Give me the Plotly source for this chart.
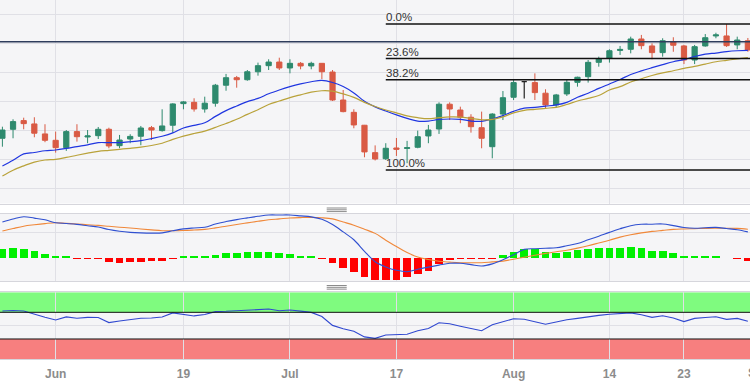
import numpy as np
import pandas as pd
import plotly.graph_objects as go
from plotly.subplots import make_subplots

# ---------------- data ----------------
dates = pd.bdate_range("2023-05-25", "2023-08-31")

open_ = [139.43,140.05,140.65,140.42,139.73,139.29,138.78,139.89,139.52,139.61,
         140.05,138.92,139.38,139.57,140.16,139.96,140.33,141.82,141.91,141.45,
         141.85,143.09,143.61,143.47,144.02,144.44,144.69,144.28,144.60,144.42,
         144.60,144.00,142.07,141.22,140.33,138.44,138.02,138.76,138.73,138.81,
         139.59,140.07,141.78,141.38,140.88,140.16,138.85,141.10,142.26,143.34,
         143.27,142.54,141.73,142.49,143.29,143.68,144.67,144.95,145.49,145.57,
         146.28,145.80,145.34,146.09,145.80,144.83,145.80,146.49,146.49,145.87,
         146.16]
high = [140.23,140.74,140.85,140.88,140.40,139.89,140.00,140.40,140.00,140.21,
        140.16,139.66,139.71,140.28,140.28,141.43,141.85,142.00,142.19,142.30,
        143.18,143.87,143.73,144.14,144.65,144.88,144.99,144.88,144.69,144.71,
        144.62,144.14,142.76,141.43,140.35,138.94,139.09,139.45,139.25,139.96,
        140.35,141.91,141.91,141.61,141.09,141.27,141.16,142.69,143.45,143.38,
        143.91,142.81,142.49,143.45,143.68,144.83,145.06,145.57,145.80,146.44,
        146.56,145.98,146.33,146.40,145.87,145.87,146.62,146.71,147.31,146.44,
        146.35]
low = [138.85,139.43,140.05,139.50,139.16,138.44,138.56,139.20,139.09,139.38,
       138.74,138.74,139.09,138.95,139.31,139.89,139.82,141.43,141.27,141.20,
       141.61,142.71,142.92,143.40,143.75,144.14,144.14,143.91,144.19,144.19,
       143.52,142.00,141.22,140.12,138.12,137.90,137.93,138.21,137.71,138.74,
       139.09,139.73,140.69,140.47,139.82,138.74,138.05,140.69,142.07,142.18,
       142.07,141.50,141.57,142.35,142.99,143.27,144.37,144.65,145.18,145.29,
       145.57,144.88,145.06,145.40,144.55,144.55,145.75,146.33,145.73,145.57,
       145.40]
close = [140.00,140.58,140.44,139.78,139.29,138.78,139.89,139.54,139.59,140.05,
         138.90,139.31,139.56,140.14,140.00,140.28,141.80,141.94,141.45,141.85,
         143.09,143.61,143.47,144.02,144.44,144.69,144.28,144.60,144.42,144.60,
         144.02,142.07,141.27,140.35,138.49,138.00,138.74,138.67,138.78,139.54,
         140.00,141.78,141.45,140.88,140.23,139.43,141.10,142.23,143.27,143.34,
         142.58,141.73,142.42,143.29,143.64,144.67,144.90,145.47,145.56,146.28,
         145.82,145.34,146.16,145.85,144.83,145.75,146.37,146.56,145.82,146.21,
         145.52]

ma_fast = [137.52,137.91,138.35,138.45,138.57,138.62,138.73,138.86,138.98,139.13,
           139.13,139.13,139.19,139.27,139.41,139.57,139.80,140.14,140.32,140.50,
           140.94,141.34,141.66,141.96,142.18,142.50,142.76,142.99,143.18,143.33,
           143.43,143.28,143.00,142.56,141.98,141.60,141.31,141.04,140.80,140.61,
           140.62,140.73,140.76,140.74,140.62,140.60,140.76,140.99,141.29,141.51,
           141.56,141.65,141.73,141.91,142.26,142.54,142.87,143.18,143.49,143.83,
           144.08,144.30,144.51,144.71,144.86,145.07,145.23,145.31,145.41,145.47,
           145.49]
ma_slow = [136.83,137.23,137.53,137.79,137.93,137.98,138.11,138.26,138.40,138.53,
           138.60,138.67,138.74,138.82,138.93,139.09,139.35,139.58,139.76,139.92,
           140.18,140.45,140.74,141.08,141.40,141.76,142.00,142.24,142.43,142.61,
           142.71,142.68,142.49,142.25,141.91,141.62,141.38,141.18,140.98,140.85,
           140.78,140.85,140.90,140.89,140.80,140.71,140.74,140.91,141.18,141.36,
           141.42,141.50,141.56,141.76,142.00,142.18,142.38,142.76,142.99,143.31,
           143.54,143.76,143.94,144.09,144.25,144.39,144.55,144.71,144.81,144.91,
           145.00]

macd = [0.893,0.968,1.025,0.990,0.948,0.875,0.855,0.833,0.800,0.768,
        0.703,0.660,0.633,0.620,0.615,0.620,0.673,0.720,0.743,0.760,
        0.843,0.903,0.953,0.995,1.035,1.068,1.068,1.068,1.045,1.020,
        0.960,0.828,0.645,0.448,0.160,-0.100,-0.230,-0.313,-0.350,-0.290,
        -0.235,-0.185,-0.140,-0.140,-0.173,-0.208,-0.155,-0.053,0.075,0.208,
        0.225,0.238,0.248,0.298,0.355,0.448,0.538,0.633,0.723,0.800,
        0.835,0.838,0.843,0.803,0.755,0.735,0.748,0.758,0.730,0.700,
        0.645]
signal = [0.668,0.730,0.788,0.823,0.853,0.875,0.858,0.843,0.825,0.808,
          0.785,0.763,0.743,0.718,0.695,0.675,0.675,0.680,0.693,0.708,
          0.745,0.788,0.830,0.870,0.910,0.948,0.970,0.993,1.003,1.008,
          0.998,0.970,0.893,0.813,0.713,0.608,0.438,0.280,0.128,0.015,
          -0.045,-0.090,-0.110,-0.125,-0.125,-0.125,-0.105,-0.085,-0.038,0.013,
          0.063,0.108,0.148,0.188,0.240,0.300,0.368,0.438,0.515,0.573,
          0.620,0.658,0.683,0.708,0.718,0.725,0.733,0.735,0.735,0.733,
          0.713]
hist = [0.220,0.235,0.220,0.170,0.085,0.035,0.035,-0.035,-0.040,-0.040,
        -0.110,-0.125,-0.110,-0.100,-0.090,-0.075,-0.035,0.035,0.035,0.035,
        0.070,0.125,0.125,0.140,0.150,0.150,0.110,0.090,0.050,0.035,
        -0.035,-0.140,-0.265,-0.365,-0.490,-0.560,-0.560,-0.560,-0.490,-0.410,
        -0.325,-0.165,-0.060,-0.040,-0.035,-0.035,-0.035,0.070,0.150,0.210,
        0.210,0.135,0.125,0.150,0.190,0.220,0.235,0.250,0.250,0.275,
        0.235,0.175,0.165,0.125,0.035,0.035,0.035,0.035,0.0,-0.035,
        -0.080]

rsi = [71.9,72.8,71.9,66.7,62.5,58.5,63.1,61.0,62.4,62.2,
       54.6,57.0,59.1,61.0,61.5,63.0,69.1,66.9,64.6,66.7,
       71.0,71.5,72.2,72.8,74.6,74.9,72.4,73.4,71.8,69.9,
       63.6,50.4,45.3,41.5,33.1,31.0,36.0,36.6,37.2,42.3,
       45.6,54.3,52.8,49.2,45.9,42.4,51.3,56.1,60.4,59.7,
       55.8,52.2,55.5,58.8,60.9,63.4,65.4,67.2,68.4,69.1,
       66.3,62.5,64.8,61.5,56.1,60.9,62.2,63.4,59.5,60.9,
       56.7]

fib_high = 147.31
fib_low = 137.24
fib_start = "2023-07-14"
fib_levels = [0.0, 23.6, 38.2, 100.0]
price_line = 146.09
rsi_upper, rsi_lower = 70, 30

tick_dates = ["2023-06-01", "2023-06-19", "2023-07-03", "2023-07-17",
              "2023-08-01", "2023-08-14", "2023-08-23"]
tick_labels = ["Jun", "19", "Jul", "17", "Aug", "14", "23"]
next_label = "Sep"

# ---------------- styles ----------------
UP = "#2e8a6e"
DOWN = "#d95a44"
BG = "#f5f5f7"
GRID = "#e0e0e6"
FONT = "Liberation Sans"

o = np.array(open_); h = np.array(high); l = np.array(low); c = np.array(close)
flat = o == c

fig = make_subplots(rows=3, cols=1, shared_xaxes=True)

fig.add_trace(go.Candlestick(
    x=dates[~flat], open=o[~flat], high=h[~flat], low=l[~flat], close=c[~flat],
    increasing=dict(line=dict(color=UP, width=1), fillcolor=UP),
    decreasing=dict(line=dict(color=DOWN, width=1), fillcolor=DOWN),
    whiskerwidth=0, showlegend=False, hoverinfo="skip"), row=1, col=1)
fig.add_trace(go.Candlestick(
    x=dates[flat], open=o[flat], high=h[flat], low=l[flat], close=c[flat],
    increasing=dict(line=dict(color="#222222", width=1.2), fillcolor="#222222"),
    decreasing=dict(line=dict(color="#222222", width=1.2), fillcolor="#222222"),
    whiskerwidth=0, showlegend=False, hoverinfo="skip"), row=1, col=1)

fig.add_trace(go.Scatter(x=dates, y=ma_fast, mode="lines",
                         line=dict(color="#2036e0", width=1.2, shape="spline"),
                         showlegend=False, hoverinfo="skip"), row=1, col=1)
fig.add_trace(go.Scatter(x=dates, y=ma_slow, mode="lines",
                         line=dict(color="#b9a23a", width=1.2, shape="spline"),
                         showlegend=False, hoverinfo="skip"), row=1, col=1)

hist_colors = ["#00f000" if v >= 0 else "#ff0000" for v in hist]
fig.add_trace(go.Bar(x=dates, y=hist, marker=dict(color=hist_colors, line=dict(width=0)),
                     width=0.72 * 86400000, showlegend=False, hoverinfo="skip"),
              row=2, col=1)
fig.add_trace(go.Scatter(x=dates, y=signal, mode="lines",
                         line=dict(color="#f0883a", width=1.1, shape="spline"),
                         showlegend=False, hoverinfo="skip"), row=2, col=1)
fig.add_trace(go.Scatter(x=dates, y=macd, mode="lines",
                         line=dict(color="#3050d0", width=1.1, shape="spline"),
                         showlegend=False, hoverinfo="skip"), row=2, col=1)

fig.add_trace(go.Scatter(x=dates, y=rsi, mode="lines",
                         line=dict(color="#3048d0", width=1.1),
                         showlegend=False, hoverinfo="skip"), row=3, col=1)

# RSI bands
fig.add_shape(type="rect", xref="x3 domain", yref="y3", x0=0, x1=1, y0=rsi_upper, y1=100,
              fillcolor="#7ffb7f", line=dict(width=0), layer="below")
fig.add_shape(type="rect", xref="x3 domain", yref="y3", x0=0, x1=1, y0=0, y1=rsi_lower,
              fillcolor="#f77f7f", line=dict(width=0), layer="below")
for lvl in (rsi_upper, rsi_lower):
    fig.add_shape(type="line", xref="x3 domain", yref="y3", x0=0, x1=1, y0=lvl, y1=lvl,
                  line=dict(color="#111111", width=1))

# price line
fig.add_shape(type="line", xref="x domain", yref="y", x0=0, x1=1, y0=price_line, y1=price_line,
              line=dict(color="#2f3d5c", width=1.5))

# Fibonacci levels
for pct in fib_levels:
    lvl = fib_high - (fib_high - fib_low) * pct / 100.0
    fig.add_shape(type="line", xref="x", yref="y", x0=fib_start, x1="2023-09-08",
                  y0=lvl, y1=lvl, line=dict(color="#111111", width=1.5))
    fig.add_annotation(x=fib_start, y=lvl, xref="x", yref="y", text=f"{pct:.1f}%",
                       showarrow=False, xanchor="left", yanchor="bottom", xshift=-2, yshift=-1,
                       font=dict(family=FONT, size=11.5, color="#333333"))

# drag handles between panels
for base in (0.4222, 0.2069):
    for k in range(3):
        yy = base - k * 0.005
        fig.add_shape(type="line", xref="paper", yref="paper", x0=0.4356, x1=0.4623,
                      y0=yy, y1=yy, line=dict(color="#8a8a8a", width=1))

# partially visible next month label
fig.add_annotation(x=1.0115, y=0, xref="paper", yref="paper", text=f"<b>{next_label}</b>",
                   showarrow=False, xanchor="center", yanchor="middle", yshift=-13,
                   font=dict(family=FONT, size=12, color="#8c8c8c"))

fig.update_xaxes(
    type="date",
    range=["2023-05-24 18:36", "2023-08-31 04:48"],
    rangebreaks=[dict(bounds=["sat", "mon"])],
    rangeslider_visible=False,
    tickvals=tick_dates, ticktext=tick_labels,
    showgrid=True, gridcolor=GRID, gridwidth=1,
    showline=True, mirror=True, linecolor="#d6d6dc", linewidth=1,
    ticks="", zeroline=False,
    tickfont=dict(family=FONT, size=12, color="#8c8c8c", weight="bold"),
)
fig.update_xaxes(showticklabels=False, row=1, col=1)
fig.update_xaxes(showticklabels=False, row=2, col=1)
fig.update_xaxes(showticklabels=True, ticklabelstandoff=4, row=3, col=1)

fig.update_layout(
    width=750, height=386,
    margin=dict(l=0, r=0, t=0, b=26),
    paper_bgcolor="white", plot_bgcolor=BG,
    showlegend=False, hovermode=False, bargap=0,
    yaxis=dict(domain=[0.4347, 1.0], range=[134.93, 148.97],
               tickvals=[136, 138, 140, 142, 144, 146, 148],
               showticklabels=False, gridcolor=GRID, zeroline=False, ticks=""),
    yaxis2=dict(domain=[0.2194, 0.4056], range=[-0.583, 1.093],
                tickvals=[0.635], showticklabels=False, gridcolor=GRID,
                zeroline=False, ticks=""),
    yaxis3=dict(domain=[0.0028, 0.188], range=[0, 100], tickvals=[50],
                showticklabels=False, gridcolor=GRID, zeroline=False, ticks=""),
)

fig.write_html("out.html",
               config={"displayModeBar": False, "staticPlot": True},
               post_script="document.body.style.margin='0px';document.body.style.overflow='hidden';")
